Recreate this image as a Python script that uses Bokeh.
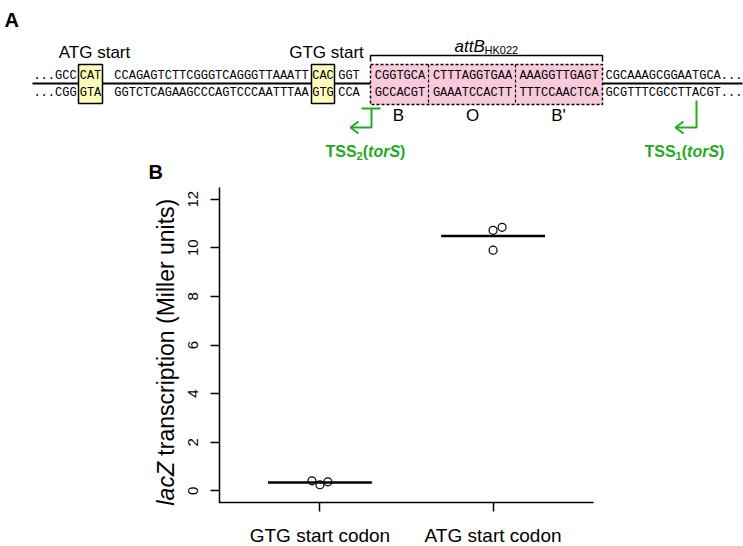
import math
import numpy as np
from bokeh.plotting import figure
from bokeh.models import Range1d, FixedTicker, LinearAxis
from bokeh.core.properties import value
from bokeh.embed import file_html
from bokeh.resources import INLINE

# ------------------------------------------------------------------ data
# Panel A : sequence segments (top / bottom strand)
top_strand = ["...GCC", "CAT", "CCAGAGTCTTCGGGTCAGGGTTAAATT", "CAC", "GGT",
              "CGGTGCA", "CTTTAGGTGAA", "AAAGGTTGAGT", "CGCAAAGCGGAATGCA..."]
bottom_strand = ["...CGG", "GTA", "GGTCTCAGAAGCCCAGTCCCAATTTAA", "GTG", "CCA",
                 "GCCACGT", "GAAATCCACTT", "TTTCCAACTCA", "GCGTTTCGCCTTACGT..."]
start_labels = ["ATG start", "GTG start"]
site_labels = ["B", "O", "B'"]

# Panel B : lacZ transcription (Miller units)
categories = ["GTG start codon", "ATG start codon"]
gtg_values = [0.41, 0.25, 0.37]
atg_values = [10.72, 10.84, 9.90]
gtg_jitter = [-0.046, 0.0, 0.046]
atg_jitter = [0.0, 0.052, 0.0]
y_ticks = [0, 2, 4, 6, 8, 10, 12]
y_tick_labels = ["0", "2", "4", "6", "8", "10", "12"]

# ------------------------------------------------------------------ styles / layout
GREEN = "#22AA22"
YELLOW = "#FFFFBB"
PINK = "#F9CADB"
SANS = "Liberation Sans"
MONO = "Liberation Mono"

W, H = 743, 546                       # canvas in page pixels
PL, PT = 0, 0
PR, PB = PL + W, PT + H
# panel B plot region on the page and its data limits
BL, BR, BT, BB = 219, 593, 187, 502
X0, X1 = 0.42, 2.58
Y0, Y1 = -0.48, 12.48
SX = (BR - BL) / (X1 - X0)
SY = (BB - BT) / (Y1 - Y0)

# Arial-compatible advance widths (em)
REG = {'l': .222, 'a': .556, 'c': .5, 'Z': .611, ' ': .278}
BOLD = {'T': .611, 'S': .667, '(': .333, ')': .333, 't': .333, 'o': .611,
        'r': .389, '1': .556, '2': .556}


def tw(text, size, table):
    return sum(table.get(ch, .556) for ch in text) * size


p = figure(width=W, height=H,
           x_range=Range1d(X0 - (BL - PL) / SX, X1 + (PR - BR) / SX),
           y_range=Range1d(Y0 - (PB - BB) / SY, Y1 + (BT - PT) / SY),
           x_axis_type=None, y_axis_type=None, min_border=0,
           output_backend="svg", toolbar_location=None)
p.extra_x_ranges = {"px": Range1d(PL, PR)}
p.extra_y_ranges = {"px": Range1d(PB, PT)}
p.grid.visible = False
p.outline_line_color = None

PX = dict(x_range_name="px", y_range_name="px")

# ------------------------------------------------------------------ panel A
p.line([32, 742], [83, 83], line_color="black", line_width=2, **PX)
p.quad(left=[78, 311], right=[102, 334], top=[64, 64], bottom=[103, 103],
       fill_color=YELLOW, line_color="black", line_width=1.5, **PX)
p.quad(left=[370], right=[602], top=[64], bottom=[104], fill_color=PINK,
       line_color="black", line_width=1.5, line_dash="3 2", **PX)
p.segment(x0=[428, 515], y0=[64, 64], x1=[428, 515], y1=[104, 104],
          line_color="black", line_width=1.2, line_dash="3 2", **PX)
p.line([370, 370, 602, 602], [61, 55, 55, 61], line_color="black", line_width=1.5, **PX)

# segment centres along the strands
seg_center = [54.5, 90, 211, 322.5, 348.5, 399.5, 472, 558.5, 673.5]
p.text(x=seg_center, y=[75] * len(top_strand), text=top_strand,
       text_font=value(MONO), text_font_size="12px", text_baseline="middle",
       text_align="center", text_color="black", **PX)
p.text(x=seg_center, y=[92] * len(bottom_strand), text=bottom_strand,
       text_font=value(MONO), text_font_size="12px", text_baseline="middle",
       text_align="center", text_color="black", **PX)

p.text(x=[94, 326], y=[52, 52], text=start_labels, text_font=value(SANS),
       text_font_size="17px", text_align="center", text_baseline="alphabetic", **PX)
p.text(x=[398, 472, 558], y=[115, 115, 115], text=site_labels, text_font=value(SANS),
       text_font_size="17px", text_align="center", text_baseline="middle", **PX)
p.text(x=[4], y=[8], text=["A"], text_font=value(SANS), text_font_size="20px",
       text_font_style="bold", text_baseline="top", **PX)

p.text(x=[454], y=[46], text=["attB"], text_font=value(SANS), text_font_size="17px",
       text_font_style="italic", text_baseline="alphabetic", **PX)
p.text(x=[484], y=[49], text=["HK022"], text_font=value(SANS), text_font_size="11px",
       text_baseline="alphabetic", **PX)

p.multi_line(xs=[[361, 380], [371, 371, 350], [358, 350, 358],
                 [696, 696, 675], [683, 675, 683]],
             ys=[[108, 108], [108, 127, 127], [121, 127, 133],
                 [100, 127, 127], [121, 127, 133]],
             line_color=GREEN, line_width=2, **PX)


def tss(x0, y, sub):
    parts = [("TSS", 16, "bold", 0), (sub, 11, "bold", 4), ("(", 16, "bold", 0),
             ("torS", 16, "bold italic", 0), (")", 16, "bold", 0)]
    x = x0
    for txt, size, style, dy in parts:
        p.text(x=[x], y=[y + dy], text=[txt], text_font=value(SANS),
               text_font_size=f"{size}px", text_font_style=style,
               text_color=GREEN, text_baseline="alphabetic", text_align="left", **PX)
        x += tw(txt, size, BOLD)


tss(325, 151, "2")
tss(644, 151, "1")

# ------------------------------------------------------------------ panel B
p.text(x=[148], y=[160], text=["B"], text_font=value(SANS), text_font_size="20px",
       text_font_style="bold", text_baseline="top", **PX)

yax = LinearAxis(fixed_location=X0, ticker=FixedTicker(ticks=y_ticks))
xax = LinearAxis(fixed_location=Y0, ticker=FixedTicker(ticks=[1, 2]),
                 major_label_overrides={1: categories[0], 2: categories[1]})
for ax in (xax, yax):
    ax.axis_line_color = None
    ax.major_tick_in = 0
    ax.major_tick_out = 9
    ax.major_tick_line_width = 1.5
    ax.major_tick_line_color = "black"
    ax.minor_tick_line_color = None
    ax.major_label_text_font = SANS
    ax.major_label_text_color = "black"
xax.major_label_text_font_size = "19px"
xax.major_label_standoff = 13
yax.major_label_text_color = None      # rotated tick labels drawn below
p.add_layout(yax, "left")
p.add_layout(xax, "below")

# rotated y tick labels (R style, reading upwards)
p.text(x=[X0] * len(y_ticks), y=y_ticks, text=y_tick_labels, x_offset=-27,
       angle=math.pi / 2, text_font=value(SANS), text_font_size="15px",
       text_align="center", text_baseline="middle", text_color="black")

# L-shaped box
p.line([X1, X0, X0], [Y0, Y0, Y1], line_color="black", line_width=1.5,
       line_join="miter")

means = [float(np.mean(gtg_values)), float(np.mean(atg_values))]
p.segment(x0=[1 - 0.3, 2 - 0.3], y0=means, x1=[1 + 0.3, 2 + 0.3], y1=means,
          line_color="black", line_width=2.5)

xs = [1 + j for j in gtg_jitter] + [2 + j for j in atg_jitter]
ys = gtg_values + atg_values
p.scatter(x=xs, y=ys, marker="circle", size=8, fill_color=None,
          line_color="black", line_width=1.2)

# y-axis title with italic gene name
TS = 23
ty0 = 505
p.text(x=[165], y=[ty0], text=["lacZ"], text_font=value(SANS),
       text_font_size=f"{TS}px", text_font_style="italic", angle=math.pi / 2,
       text_align="left", text_baseline="middle", **PX)
p.text(x=[165], y=[ty0 - tw("lacZ ", TS, REG)], text=["transcription (Miller units)"],
       text_font=value(SANS), text_font_size=f"{TS}px", angle=math.pi / 2,
       text_align="left", text_baseline="middle", **PX)

open("out.html", "w").write(file_html(p, INLINE))
